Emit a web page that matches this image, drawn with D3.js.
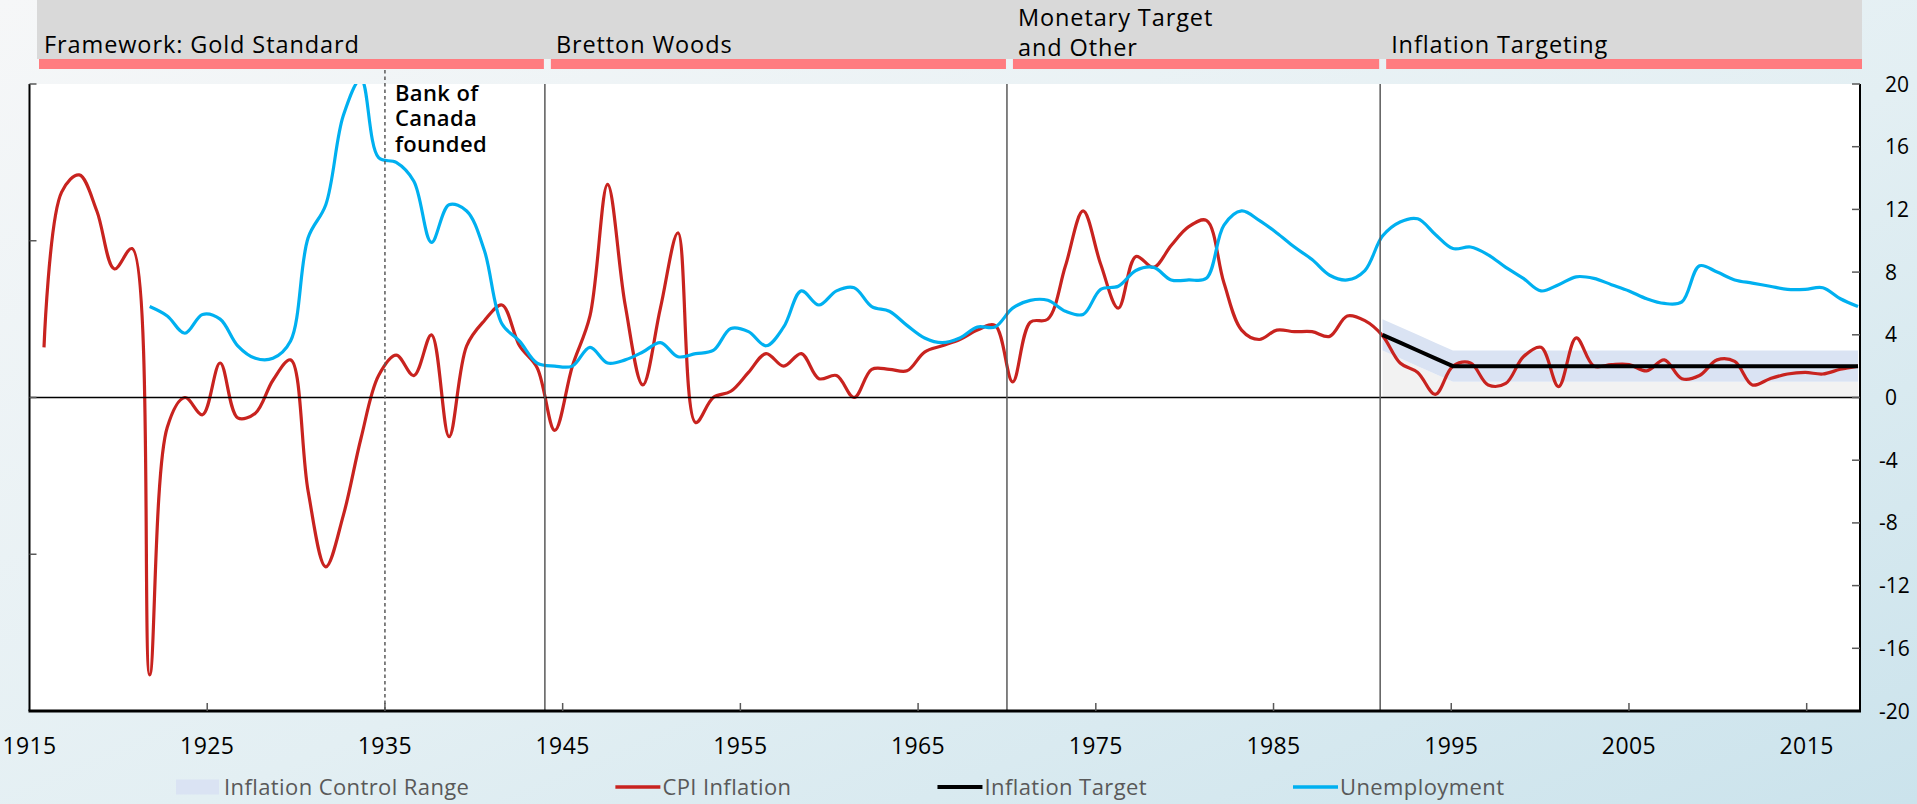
<!DOCTYPE html>
<html>
<head>
<meta charset="utf-8">
<script src="https://cdn.jsdelivr.net/npm/d3@7"></script>
<style>
  body { margin: 0; }
  svg { display: block; font-family: "Open Sans", "Noto Sans", sans-serif; }
</style>
</head>
<body>
<svg id="chart"></svg>
<script>
// ---- data ----
var cpiYears = d3.range(1915, 2019);
var cpiValues = [
  3.2, 13.1, 14.2, 11.9, 8.2, 9.5, -17.7, -1.9, 0.0, -1.1,      // 1915-1924
  2.2, -1.3, -1.0, 1.1, 2.4, -6.0, -10.8, -7.5, -2.6, 1.4,      // 1925-1934
  2.7, 1.4, 4.0, -2.5, 3.3, 4.9, 5.9, 3.3, 1.9, -2.1,           // 1935-1944
  2.0, 5.2, 13.6, 5.9, 0.8, 5.7, 10.5, -1.6, 0.0, 0.4,          // 1945-1954
  1.6, 2.8, 2.0, 2.8, 1.2, 1.4, 0.0, 1.8, 1.8, 1.7,             // 1955-1964
  2.9, 3.3, 3.7, 4.3, 4.6, 1.0, 4.8, 5.0, 8.4, 11.9,            // 1965-1974
  8.5, 5.7, 9.0, 8.3, 9.7, 10.9, 11.3, 7.3, 4.3, 3.7,           // 1975-1984
  4.3, 4.2, 4.2, 3.9, 5.2, 4.9, 3.95, 2.2, 1.6, 0.2,            // 1985-1994
  2.0, 2.2, 0.8, 0.9, 2.6, 3.2, 0.7, 3.8, 2.0, 2.1,             // 1995-2004
  2.1, 1.7, 2.4, 1.2, 1.4, 2.4, 2.3, 0.8, 1.2, 1.5,             // 2005-2014
  1.6, 1.5, 1.8, 2.0                                            // 2015-2018
];

var unempYears = d3.range(1921, 2019);
var unempValues = [
  5.8, 5.2, 4.1, 5.3,                                           // 1921-1924
  5.0, 3.3, 2.5, 2.5, 3.6, 10.2, 12.3, 18.0, 20.3, 15.3,        // 1925-1934
  15.0, 13.8, 9.9, 12.3, 11.9, 9.4, 4.7, 3.6, 2.2, 2.0,         // 1935-1944
  2.0, 3.2, 2.2, 2.4, 2.9, 3.5, 2.6, 2.8, 3.0, 4.4,             // 1945-1954
  4.2, 3.3, 4.5, 6.8, 5.9, 6.8, 7.0, 5.8, 5.5, 4.6,             // 1955-1964
  3.8, 3.5, 3.8, 4.5, 4.5, 5.7, 6.2, 6.2, 5.5, 5.3,             // 1965-1974
  6.9, 7.1, 8.1, 8.3, 7.5, 7.5, 7.6, 11.0, 11.9, 11.3,          // 1975-1984
  10.5, 9.6, 8.8, 7.8, 7.5, 8.1, 10.3, 11.2, 11.4, 10.4,        // 1985-1994
  9.5, 9.6, 9.1, 8.3, 7.6, 6.8, 7.2, 7.7, 7.6, 7.2,             // 1995-2004
  6.8, 6.3, 6.0, 6.1, 8.4, 8.0, 7.5, 7.3, 7.1, 6.9,             // 2005-2014
  6.9, 7.0, 6.3, 5.8                                            // 2015-2018
];

var targetYears = d3.range(1991, 2019);
var targetValues = [4, 3.5, 3, 2.5, 2, 2, 2, 2, 2, 2, 2, 2, 2, 2, 2, 2, 2, 2, 2, 2, 2, 2, 2, 2, 2, 2, 2, 2];
var rangeLow =     [3, 2.5, 2, 1.5, 1, 1, 1, 1, 1, 1, 1, 1, 1, 1, 1, 1, 1, 1, 1, 1, 1, 1, 1, 1, 1, 1, 1, 1];
var rangeHigh =    [5, 4.5, 4, 3.5, 3, 3, 3, 3, 3, 3, 3, 3, 3, 3, 3, 3, 3, 3, 3, 3, 3, 3, 3, 3, 3, 3, 3, 3];

var eraNames = [["Framework: Gold Standard"], ["Bretton Woods"], ["Monetary Target", "and Other"], ["Inflation Targeting"]];
var eraBreaks = [1915, 1944, 1970, 1991, 2018];
var bankYear = 1935;
var bankNote = ["Bank of", "Canada", "founded"];

var xTickYears = [1915, 1925, 1935, 1945, 1955, 1965, 1975, 1985, 1995, 2005, 2015];
var yTickValues = [20, 16, 12, 8, 4, 0, -4, -8, -12, -16, -20];
var leftTickValues = [20, 10, 0, -10, -20];
var legendNames = ["Inflation Control Range", "CPI Inflation", "Inflation Target", "Unemployment"];

// ---- layout ----
var width = 1917;
var height = 804;
var plotL = 29.5, plotR = 1860, plotT = 84, plotB = 711;

var svg = d3.select("#chart").attr("width", width).attr("height", height);
var defs = svg.append("defs");

var grad = defs.append("linearGradient").attr("id", "bg")
  .attr("x1", "0").attr("y1", "0").attr("x2", "1").attr("y2", "1");
grad.append("stop").attr("offset", "0%").attr("stop-color", "#f6f7f8");
grad.append("stop").attr("offset", "55%").attr("stop-color", "#e3eff3");
grad.append("stop").attr("offset", "100%").attr("stop-color", "#cbe3ec");

defs.append("clipPath").attr("id", "plotclip")
  .append("rect").attr("x", plotL).attr("y", plotT).attr("width", plotR - plotL).attr("height", plotB - plotT);

svg.append("rect").attr("width", width).attr("height", height).attr("fill", "url(#bg)");

// axis scale (tick labels) and data scale (points sit at category centres)
var xAxis = d3.scaleLinear().domain([1915, 2018]).range([plotL, plotR]);
var x = d3.scaleLinear().domain([1915, 2018]).range([plotL + 14.5, plotR - 2]);
var y = d3.scaleLinear().domain([-20, 20]).range([plotB, plotT]);

// ---- framework header ----
svg.append("rect").attr("x", 37).attr("y", 0).attr("width", 1862 - 37).attr("height", 59).attr("fill", "#d9d9d9");

eraNames.forEach(function (lines, i) {
  var x0 = i === 0 ? 39 : xAxis(eraBreaks[i]) + 6;
  var x1 = i === eraNames.length - 1 ? 1862 : xAxis(eraBreaks[i + 1]) - 1;
  svg.append("rect").attr("x", x0).attr("y", 59).attr("width", x1 - x0).attr("height", 10).attr("fill", "#ff7c80");
  var t = svg.append("text")
    .attr("font-size", "23.5px").attr("letter-spacing", "0.9px").attr("fill", "#000");
  lines.forEach(function (s, j) {
    t.append("tspan")
      .attr("x", x0 + 5)
      .attr("y", lines.length === 1 ? 53 : 25.5 + j * 30)
      .text(s);
  });
});

// ---- plot area ----
svg.append("rect").attr("x", plotL).attr("y", plotT).attr("width", plotR - plotL).attr("height", plotB - plotT).attr("fill", "#fff");

var plot = svg.append("g").attr("clip-path", "url(#plotclip)");

var rangeData = targetYears.map(function (yr, i) {
  return { year: yr, low: rangeLow[i], high: rangeHigh[i], target: targetValues[i] };
});

plot.append("path").datum(rangeData)
  .attr("fill", "#f2f2f2")
  .attr("d", d3.area().x(function (d) { return x(d.year); }).y0(y(0)).y1(function (d) { return y(d.low); }));

plot.append("path").datum(rangeData)
  .attr("fill", "#dae3f3")
  .attr("d", d3.area().x(function (d) { return x(d.year); })
    .y0(function (d) { return y(d.low); }).y1(function (d) { return y(d.high); }));

// zero line
svg.append("line").attr("x1", plotL).attr("x2", plotR).attr("y1", y(0)).attr("y2", y(0))
  .attr("stroke", "#000").attr("stroke-width", 1.5);

// framework dividers
eraBreaks.slice(1, 4).forEach(function (yr) {
  svg.append("line").attr("x1", xAxis(yr)).attr("x2", xAxis(yr)).attr("y1", plotT).attr("y2", plotB)
    .attr("stroke", "#595959").attr("stroke-width", 1.5);
});

// Bank of Canada marker
svg.append("line").attr("x1", xAxis(bankYear)).attr("x2", xAxis(bankYear)).attr("y1", 70).attr("y2", plotB)
  .attr("stroke", "#595959").attr("stroke-width", 1.5).attr("stroke-dasharray", "3.5,3");

var note = svg.append("text")
  .attr("font-size", "22px").attr("font-weight", 600).attr("letter-spacing", "0.4px").attr("fill", "#000");
bankNote.forEach(function (s, i) {
  note.append("tspan").attr("x", xAxis(bankYear) + 10).attr("y", 100.5 + i * 25.5).text(s);
});

// ---- series ----
var smooth = d3.line()
  .x(function (d) { return x(d[0]); })
  .y(function (d) { return y(d[1]); })
  .curve(d3.curveCatmullRom.alpha(0.5));

plot.append("path").datum(d3.zip(cpiYears, cpiValues))
  .attr("fill", "none").attr("stroke", "#c8231f").attr("stroke-width", 3.2)
  .attr("stroke-linejoin", "round").attr("d", smooth);

plot.append("path").datum(rangeData)
  .attr("fill", "none").attr("stroke", "#000").attr("stroke-width", 4)
  .attr("d", d3.line().x(function (d) { return x(d.year); }).y(function (d) { return y(d.target); }));

plot.append("path").datum(d3.zip(unempYears, unempValues))
  .attr("fill", "none").attr("stroke", "#00b0f0").attr("stroke-width", 3.2)
  .attr("stroke-linejoin", "round").attr("d", smooth);

// ---- axes ----
// left axis: ticks only, no labels
svg.append("line").attr("x1", plotL).attr("x2", plotL).attr("y1", plotT).attr("y2", plotB)
  .attr("stroke", "#000").attr("stroke-width", 2);
svg.selectAll(".ltick").data(leftTickValues).enter().append("line")
  .attr("x1", plotL).attr("x2", plotL + 7)
  .attr("y1", function (d) { return y(d); }).attr("y2", function (d) { return y(d); })
  .attr("stroke", "#595959").attr("stroke-width", 1.5);

// right axis with labels
svg.append("line").attr("x1", plotR).attr("x2", plotR).attr("y1", plotT).attr("y2", plotB)
  .attr("stroke", "#000").attr("stroke-width", 2);
svg.selectAll(".rtick").data(yTickValues).enter().append("line")
  .attr("x1", plotR - 8).attr("x2", plotR)
  .attr("y1", function (d) { return y(d); }).attr("y2", function (d) { return y(d); })
  .attr("stroke", "#595959").attr("stroke-width", 1.5);
svg.selectAll(".rlabel").data(yTickValues).enter().append("text")
  .attr("x", function (d) { return d < 0 ? 1879 : 1885; })
  .attr("y", function (d) { return y(d); })
  .attr("dy", "0.36em")
  .attr("font-size", "21px").attr("fill", "#000")
  .text(function (d) { return d; });

// bottom axis
svg.append("line").attr("x1", plotL - 1).attr("x2", plotR + 1).attr("y1", plotB).attr("y2", plotB)
  .attr("stroke", "#000").attr("stroke-width", 3);
svg.selectAll(".xtick").data(xTickYears.slice(1)).enter().append("line")
  .attr("x1", function (d) { return xAxis(d); }).attr("x2", function (d) { return xAxis(d); })
  .attr("y1", plotB - 8).attr("y2", plotB)
  .attr("stroke", "#595959").attr("stroke-width", 1.5);
svg.selectAll(".xlabel").data(xTickYears).enter().append("text")
  .attr("x", function (d) { return xAxis(d); })
  .attr("y", 754)
  .attr("text-anchor", "middle")
  .attr("font-size", "23px").attr("letter-spacing", "0.4px").attr("fill", "#000")
  .text(function (d) { return d; });

// ---- legend ----
var legend = svg.append("g").attr("font-size", "22px").attr("letter-spacing", "0.4px").attr("fill", "#595959");
var lx = 176;
var ly = 787;
legendNames.forEach(function (name, i) {
  if (i === 0) {
    legend.append("rect").attr("x", lx).attr("y", ly - 7.5).attr("width", 43).attr("height", 15).attr("fill", "#dae3f3");
  } else {
    var col = ["", "#c8231f", "#000", "#00b0f0"][i];
    legend.append("line").attr("x1", lx).attr("x2", lx + 45).attr("y1", ly).attr("y2", ly)
      .attr("stroke", col).attr("stroke-width", i === 2 ? 4 : 3.5);
  }
  var t = legend.append("text").attr("x", lx + (i === 0 ? 48 : 47)).attr("y", ly).attr("dy", "0.36em").text(name);
  lx = lx + (i === 0 ? 48 : 47) + t.node().getComputedTextLength() + 146;
});
</script>
</body>
</html>
